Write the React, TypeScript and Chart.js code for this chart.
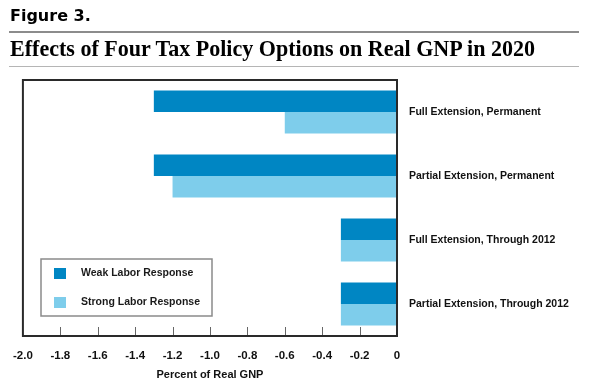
import React, { useEffect, useLayoutEffect, useRef } from 'react';
import { Chart, registerables } from 'chart.js';

Chart.register(...registerables);

const figureLabel = 'Figure 3.';
const chartTitle = 'Effects of Four Tax Policy Options on Real GNP in 2020';
const xAxisTitle = 'Percent of Real GNP';
const categories = [
  'Full Extension, Permanent',
  'Partial Extension, Permanent',
  'Full Extension, Through 2012',
  'Partial Extension, Through 2012',
];
const seriesNames = ['Weak Labor Response', 'Strong Labor Response'];
const weakLabor = [-1.3, -1.3, -0.3, -0.3];
const strongLabor = [-0.6, -1.2, -0.3, -0.3];
const xTickValues = [-2.0, -1.8, -1.6, -1.4, -1.2, -1.0, -0.8, -0.6, -0.4, -0.2, 0];
const seriesColors = ['#0086c3', '#7ecdeb'];

const SANS = "'Liberation Sans', Arial, sans-serif";

const framePlugin = {
  id: 'framePlugin',
  afterDatasetsDraw(chart: any) {
    const { ctx, chartArea } = chart;
    const xs = chart.scales.x;
    ctx.save();
    // inner tick marks
    ctx.strokeStyle = '#666';
    ctx.lineWidth = 1;
    xTickValues.forEach((v) => {
      if (v === xTickValues[0] || v === xTickValues[xTickValues.length - 1]) return;
      const px = Math.round(xs.getPixelForValue(v)) + 0.5;
      ctx.beginPath();
      ctx.moveTo(px, chartArea.bottom - 9);
      ctx.lineTo(px, chartArea.bottom);
      ctx.stroke();
    });
    // frame
    ctx.strokeStyle = '#2a2a2a';
    ctx.lineWidth = 2;
    ctx.strokeRect(chartArea.left, chartArea.top, chartArea.right - chartArea.left, chartArea.bottom - chartArea.top);
    // legend box
    ctx.strokeStyle = '#8a8a8a';
    ctx.lineWidth = 1.5;
    ctx.strokeRect(41, 259, 171, 57);
    const ds = chart.data.datasets;
    const rows = [273.5, 302.5];
    ctx.font = `bold 10.5px ${SANS}`;
    ctx.textBaseline = 'middle';
    ctx.textAlign = 'left';
    ds.forEach((d: any, i: number) => {
      ctx.fillStyle = d.backgroundColor;
      ctx.fillRect(54, rows[i] - 5.5, 12, 11);
      ctx.fillStyle = '#1a1a1a';
      ctx.fillText(d.label, 81, rows[i]);
    });
    ctx.restore();
  },
};

function fmt(v: number) {
  return v === 0 ? '0' : v.toFixed(1);
}

export default function App() {
  const canvasRef = useRef<HTMLCanvasElement | null>(null);
  const titleRef = useRef<HTMLDivElement | null>(null);

  useLayoutEffect(() => {
    const el = titleRef.current;
    if (el) {
      el.style.transform = 'none';
      const w = el.getBoundingClientRect().width;
      if (w > 0) el.style.transform = `scaleX(${525 / w})`;
    }
  }, []);

  useEffect(() => {
    const canvas = canvasRef.current;
    if (!canvas) return;
    const font = { family: SANS, weight: 'bold' as const, size: 10.5 };
    const chart = new Chart(canvas, {
      type: 'bar',
      data: {
        labels: categories,
        datasets: [
          {
            label: seriesNames[0],
            data: weakLabor,
            backgroundColor: seriesColors[0],
            borderWidth: 0,
            barPercentage: 1,
            categoryPercentage: 0.67,
          },
          {
            label: seriesNames[1],
            data: strongLabor,
            backgroundColor: seriesColors[1],
            borderWidth: 0,
            barPercentage: 1,
            categoryPercentage: 0.67,
          },
        ],
      },
      options: {
        indexAxis: 'y',
        animation: false,
        responsive: false,
        maintainAspectRatio: false,
        layout: { padding: { left: 22, top: 80, right: 0, bottom: 0 } },
        plugins: {
          legend: { display: false },
          tooltip: { enabled: false },
          title: { display: false },
        },
        scales: {
          x: {
            type: 'linear',
            position: 'bottom',
            min: -2,
            max: 0,
            grid: { display: false, drawTicks: false },
            border: { display: false },
            afterBuildTicks: (s: any) => {
              s.ticks = xTickValues.map((v) => ({ value: v }));
            },
            ticks: {
              autoSkip: false,
              maxRotation: 0,
              padding: 13,
              color: '#111',
              font: { family: SANS, weight: 'bold', size: 11.5 },
              callback: (v: any) => fmt(Number(v)),
            },
            title: {
              display: true,
              text: xAxisTitle,
              color: '#111',
              font: { family: SANS, weight: 'bold', size: 11 },
              padding: { top: 0, bottom: 5 },
            },
            afterFit: (s: any) => {
              s.height = 51;
            },
          },
          y: {
            position: 'right',
            grid: { display: false, drawTicks: false },
            border: { display: false },
            ticks: {
              crossAlign: 'near',
              padding: 12,
              color: '#111',
              font,
            },
            afterFit: (s: any) => {
              s.width = 193;
            },
          },
        },
      },
      plugins: [framePlugin],
    });
    return () => chart.destroy();
  }, []);

  return (
    <div style={{ position: 'absolute', left: 0, top: 0, width: 590, height: 387, background: '#fff', overflow: 'hidden' }}>
      <canvas ref={canvasRef} width={590} height={387} style={{ position: 'absolute', left: 0, top: 0, width: 590, height: 387 }} />
      <div
        style={{
          position: 'absolute',
          left: 10,
          top: 7.5,
          fontFamily: "'DejaVu Sans', sans-serif",
          fontWeight: 'bold',
          fontSize: 16,
          lineHeight: '16px',
          whiteSpace: 'nowrap',
          color: '#000',
        }}
      >
        {figureLabel}
      </div>
      <div style={{ position: 'absolute', left: 9, top: 31, width: 570, height: 2, background: '#8c8c8c' }} />
      <div
        ref={titleRef}
        style={{
          position: 'absolute',
          left: 10,
          top: 36,
          fontFamily: "'Liberation Serif', 'Times New Roman', serif",
          fontWeight: 'bold',
          fontSize: 24,
          lineHeight: '24px',
          whiteSpace: 'nowrap',
          color: '#000',
          transformOrigin: '0 0',
          display: 'inline-block',
        }}
      >
        {chartTitle}
      </div>
      <div style={{ position: 'absolute', left: 9, top: 66, width: 570, height: 1, background: '#b5b5b5' }} />
    </div>
  );
}
